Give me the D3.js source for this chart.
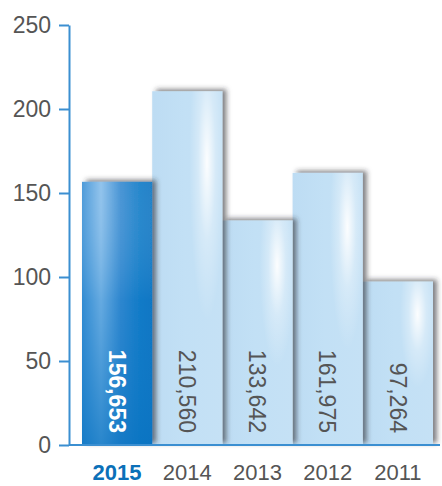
<!DOCTYPE html>
<html>
<head>
<meta charset="utf-8">
<script src="https://cdn.jsdelivr.net/npm/d3@7"></script>
<style>
  html, body { margin: 0; padding: 0; background: #fff; }
  svg { display: block; font-family: "Liberation Sans", Arial, Helvetica, sans-serif; }
</style>
</head>
<body>
<svg id="chart" width="442" height="486"></svg>
<script>
// Yearly totals, most recent year first
const years = ["2015", "2014", "2013", "2012", "2011"];
const totals = [156653, 210560, 133642, 161975, 97264];
const yTicks = [0, 50, 100, 150, 200, 250];
const highlightYear = "2015";

const svg = d3.select("#chart");
const axisX = 69, baseY = 445, topY = 25;

const y = d3.scaleLinear().domain([0, 250]).range([baseY, topY]);
const x = d3.scaleBand().domain(years).range([82, 433]).paddingInner(0).paddingOuter(0);

const defs = svg.append("defs");

// soft shadow cast to the right of and above each bar
const shadow = defs.append("filter").attr("id", "barShadow")
  .attr("x", "-20%").attr("y", "-10%").attr("width", "150%").attr("height", "120%");
shadow.append("feDropShadow")
  .attr("dx", 4).attr("dy", -2).attr("stdDeviation", 2.8)
  .attr("flood-color", "#2a2f36").attr("flood-opacity", 0.6);

// light bar fill
const light = defs.append("linearGradient").attr("id", "lightFill")
  .attr("x1", "0%").attr("x2", "100%").attr("y1", "0%").attr("y2", "0%");
[[0, "#bddcf3"], [0.45, "#c2e0f5"], [1, "#c5e1f5"]].forEach(([o, c]) =>
  light.append("stop").attr("offset", o).attr("stop-color", c));

const lightGlow = defs.append("radialGradient").attr("id", "lightGlow")
  .attr("cx", 0.78).attr("cy", 0.2).attr("r", 0.5)
  .attr("gradientTransform", "translate(0.78,0.2) scale(0.5,0.9) translate(-0.78,-0.2)");
lightGlow.append("stop").attr("offset", 0).attr("stop-color", "#ffffff").attr("stop-opacity", 0.95);
lightGlow.append("stop").attr("offset", 0.5).attr("stop-color", "#ffffff").attr("stop-opacity", 0.3);
lightGlow.append("stop").attr("offset", 1).attr("stop-color", "#ffffff").attr("stop-opacity", 0);

// highlighted bar fill
const dark = defs.append("linearGradient").attr("id", "darkFill")
  .attr("x1", "0%").attr("x2", "100%").attr("y1", "0%").attr("y2", "0%");
[[0, "#3b90d5"], [0.27, "#86bdea"], [0.55, "#3589d0"], [0.85, "#0b78c5"], [1, "#0673c1"]].forEach(([o, c]) =>
  dark.append("stop").attr("offset", o).attr("stop-color", c));

const darkShade = defs.append("linearGradient").attr("id", "darkShade")
  .attr("x1", "0%").attr("x2", "0%").attr("y1", "0%").attr("y2", "100%");
darkShade.append("stop").attr("offset", 0).attr("stop-color", "#ffffff").attr("stop-opacity", 0.1);
darkShade.append("stop").attr("offset", 0.45).attr("stop-color", "#1a7fcb").attr("stop-opacity", 0.3);
darkShade.append("stop").attr("offset", 1).attr("stop-color", "#0a74c2").attr("stop-opacity", 0.75);

const rows = years.map((yr, i) => ({ year: yr, value: totals[i] }));

// bars: drawn from the oldest year so each shadow falls on its right neighbour
const barG = svg.append("g");
const bars = barG.selectAll("g.bar").data(rows.slice().reverse()).join("g").attr("class", "bar");

bars.append("rect")
  .attr("x", d => x(d.year))
  .attr("y", d => y(d.value / 1000))
  .attr("width", x.bandwidth())
  .attr("height", d => baseY - y(d.value / 1000))
  .attr("fill", d => d.year === highlightYear ? "url(#darkFill)" : "url(#lightFill)")
  .attr("filter", "url(#barShadow)");

bars.append("rect")
  .attr("x", d => x(d.year))
  .attr("y", d => y(d.value / 1000))
  .attr("width", x.bandwidth())
  .attr("height", d => baseY - y(d.value / 1000))
  .attr("fill", d => d.year === highlightYear ? "url(#darkShade)" : "url(#lightGlow)");

// value labels, running down each bar
bars.append("text")
  .attr("transform", d => `translate(${x(d.year) + x.bandwidth() / 2},433) rotate(90)`)
  .attr("text-anchor", "end")
  .attr("dy", "0.36em")
  .attr("font-size", 23)
  .attr("font-weight", d => d.year === highlightYear ? "bold" : "normal")
  .attr("fill", d => d.year === highlightYear ? "#ffffff" : "#555555")
  .text(d => d3.format(",")(d.value));

// baseline
svg.append("line")
  .attr("x1", axisX).attr("x2", 440)
  .attr("y1", baseY).attr("y2", baseY)
  .attr("stroke", "#3b8fd1").attr("stroke-width", 2);

// y axis
const yAxis = svg.append("g")
  .attr("transform", `translate(${axisX},0)`)
  .call(d3.axisLeft(y).tickValues(yTicks).tickSize(10).tickSizeOuter(0).tickPadding(8));
yAxis.select(".domain").attr("stroke", "#3b8fd1").attr("stroke-width", 2);
yAxis.selectAll(".tick line").attr("stroke", "#3b8fd1").attr("stroke-width", 2);
yAxis.selectAll(".tick text")
  .attr("font-size", 23)
  .attr("font-family", "\"Liberation Sans\", Arial, sans-serif")
  .attr("fill", "#555555");

// year labels
svg.append("g").selectAll("text").data(years).join("text")
  .attr("x", d => x(d) + x.bandwidth() / 2)
  .attr("y", 480)
  .attr("text-anchor", "middle")
  .attr("font-size", 22)
  .attr("font-weight", d => d === highlightYear ? "bold" : "normal")
  .attr("fill", d => d === highlightYear ? "#0b70b8" : "#555555")
  .text(d => d);
</script>
</body>
</html>
